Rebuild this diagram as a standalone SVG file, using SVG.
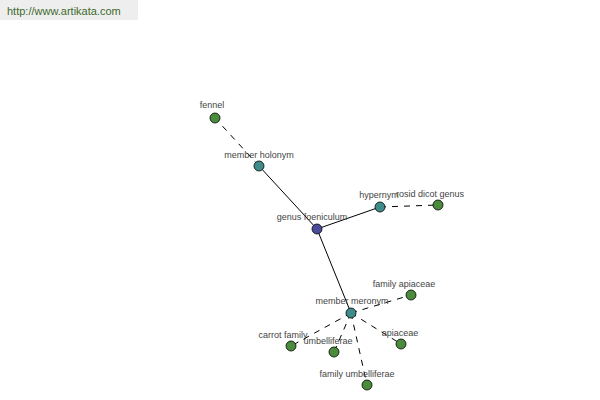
<svg xmlns="http://www.w3.org/2000/svg" width="600" height="400" viewBox="0 0 600 400">
<style>
.lbl{font-family:"Liberation Sans",Arial,sans-serif;font-size:9px;fill:#444;text-anchor:middle}
.e{stroke:#000;stroke-width:1;fill:none}
.d{stroke-dasharray:6,6}
.n{stroke:#000;stroke-width:0.8}
.g{fill:#4a8c3c}
.t{fill:#3d8c8a}
.b{fill:#4b4b9c}
</style>
<rect x="0" y="0" width="600" height="400" fill="#fff"/>
<rect x="0" y="0" width="138" height="20" fill="#eeeeee"/>
<text x="7" y="15" font-family="Liberation Sans,Arial,sans-serif" font-size="11" fill="#3d6a2c">http://www.artikata.com</text>
<g id="connectors">
<line class="e" x1="317" y1="229" x2="259" y2="166"/>
<line class="e" x1="317" y1="229" x2="380" y2="207"/>
<line class="e" x1="317" y1="229" x2="351" y2="313"/>
<line class="e d" x1="259" y1="166" x2="215" y2="118"/>
<line class="e d" x1="380" y1="207" x2="438" y2="205"/>
<line class="e d" x1="351" y1="313" x2="411" y2="295"/>
<line class="e d" x1="351" y1="313" x2="291" y2="346"/>
<line class="e d" x1="351" y1="313" x2="334" y2="352"/>
<line class="e d" x1="351" y1="313" x2="401" y2="344"/>
<line class="e d" x1="351" y1="313" x2="367" y2="385"/>
</g>
<g id="fennel"><circle class="n g" cx="215" cy="118" r="5"/><text class="lbl" x="212" y="108">fennel</text></g>
<g id="member-holonym"><circle class="n t" cx="259" cy="166" r="5"/><text class="lbl" x="259" y="158">member holonym</text></g>
<g id="genus-foeniculum"><circle class="n b" cx="317" cy="229" r="5"/><text class="lbl" x="312" y="220">genus foeniculum</text></g>
<g id="hypernym"><circle class="n t" cx="380" cy="207" r="5"/><text class="lbl" x="379" y="198">hypernym</text></g>
<g id="rosid-dicot-genus"><circle class="n g" cx="438" cy="205" r="5"/><text class="lbl" x="430" y="197">rosid dicot genus</text></g>
<g id="member-meronym"><circle class="n t" cx="351" cy="313" r="5"/><text class="lbl" x="352" y="304">member meronym</text></g>
<g id="family-apiaceae"><circle class="n g" cx="411" cy="295" r="5"/><text class="lbl" x="404" y="287">family apiaceae</text></g>
<g id="carrot-family"><circle class="n g" cx="291" cy="346" r="5"/><text class="lbl" x="283" y="338">carrot family</text></g>
<g id="umbelliferae"><circle class="n g" cx="334" cy="352" r="5"/><text class="lbl" x="328" y="344">umbelliferae</text></g>
<g id="apiaceae"><circle class="n g" cx="401" cy="344" r="5"/><text class="lbl" x="400" y="336">apiaceae</text></g>
<g id="family-umbelliferae"><circle class="n g" cx="367" cy="385" r="5"/><text class="lbl" x="357" y="377">family umbelliferae</text></g>
</svg>
